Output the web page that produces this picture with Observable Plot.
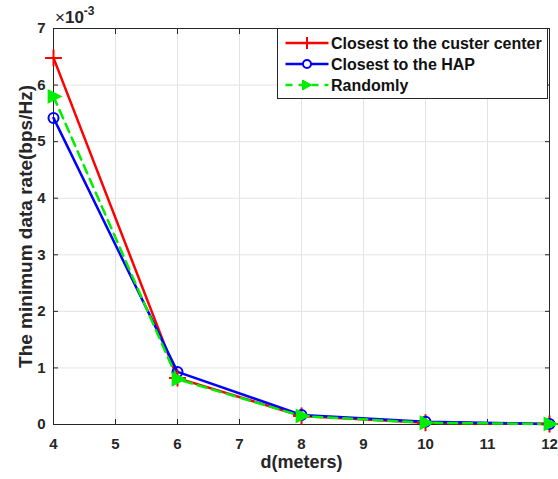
<!DOCTYPE html>
<html><head><meta charset="utf-8">
<script src="https://cdn.jsdelivr.net/npm/d3@7"></script>
<script src="https://cdn.jsdelivr.net/npm/@observablehq/plot@0.6"></script>
<style>
body{margin:0;background:#fff;}
#chart{position:relative;width:558px;height:479px;}
svg{font-family:"Liberation Sans",Arial,sans-serif;}
</style></head>
<body><div id="chart"></div>
<script>
const dValues = [4, 6, 8, 10, 12];
const seriesNames = ["Closest to the custer center", "Closest to the HAP", "Randomly"];
const clusterCenter = [6.48, 0.82, 0.15, 0.03, 0.01];
const closestHAP = [5.42, 0.93, 0.17, 0.05, 0.01];
const randomly = [5.80, 0.80, 0.15, 0.03, 0.01];
const xTicks = [4, 5, 6, 7, 8, 9, 10, 11, 12];
const yTicks = [0, 1, 2, 3, 4, 5, 6, 7];
const colors = ["#ff0000", "#0000ff", "#00ee00"];

const triRight = {draw(ctx, size){const r=Math.sqrt(size)*0.75; ctx.moveTo(r,0); ctx.lineTo(-r*0.7,-r*0.85); ctx.lineTo(-r*0.7,r*0.85); ctx.closePath();}};

const rows = [];
[clusterCenter, closestHAP, randomly].forEach((arr, i) => arr.forEach((v, j) => rows.push({series: seriesNames[i], d: dValues[j], v})));
const bySeries = n => rows.filter(r => r.series === n);

const W = 558, H = 479;
const ink = "#262626";
const plot = Plot.plot({
  width: W, height: H,
  marginLeft: 53, marginRight: 9, marginTop: 28, marginBottom: 55,
  style: {fontFamily: "Liberation Sans, Arial, sans-serif", fontSize: "15px", fontWeight: "bold", color: ink, background: "#fff"},
  x: {domain: [4, 12]},
  y: {domain: [0, 7]},
  marks: [
    Plot.ruleX(xTicks, {stroke: "#e3e3e3", strokeWidth: 1}),
    Plot.ruleY(yTicks, {stroke: "#e3e3e3", strokeWidth: 1}),
    Plot.axisX(xTicks, {anchor: "bottom", tickSize: -5, tickPadding: 19, stroke: ink, label: null, tickFormat: d3.format("d"), fontWeight: "bold", fontSize: 15, fill: ink}),
    Plot.axisX(xTicks, {anchor: "top", tickSize: -5, tickFormat: () => "", label: null, stroke: ink}),
    Plot.axisY(yTicks, {anchor: "left", tickSize: -5, tickPadding: 13, stroke: ink, label: null, tickFormat: d3.format("d"), fontWeight: "bold", fontSize: 15, fill: ink}),
    Plot.axisY(yTicks, {anchor: "right", tickSize: -5, tickFormat: () => "", label: null, stroke: ink}),
    Plot.frame({stroke: ink, strokeWidth: 1}),
    Plot.line(bySeries(seriesNames[0]), {x: "d", y: "v", stroke: colors[0], strokeWidth: 2.5}),
    Plot.line(bySeries(seriesNames[1]), {x: "d", y: "v", stroke: colors[1], strokeWidth: 2.5}),
    Plot.line(bySeries(seriesNames[2]), {x: "d", y: "v", stroke: colors[2], strokeWidth: 2.5, strokeDasharray: "9,6"}),
    Plot.dot(bySeries(seriesNames[0]), {x: "d", y: "v", symbol: "plus", stroke: colors[0], strokeWidth: 2, r: 5.5}),
    Plot.dot(bySeries(seriesNames[1]), {x: "d", y: "v", symbol: "circle", stroke: colors[1], strokeWidth: 2, r: 5}),
    Plot.dot(bySeries(seriesNames[2]), {x: "d", y: "v", symbol: triRight, fill: colors[2], stroke: colors[2], strokeWidth: 1.5, r: 5.5}),
    Plot.text(["d(meters)"], {frameAnchor: "bottom", textAnchor: "middle", dy: 43, fontSize: 18, fontWeight: "bold", fill: ink}),
    Plot.text(["The minimum data rate(bps/Hz)"], {frameAnchor: "left", textAnchor: "middle", dx: -28, rotate: -90, fontSize: 19, fontWeight: "bold", fill: ink})
  ]
});
document.getElementById("chart").appendChild(plot);

const svg = d3.select(plot);
// exponent label
const ex = svg.append("text").attr("x", 55).attr("y", 23).attr("text-anchor", "start").attr("fill", ink).style("font-size", "17px").style("font-weight", "normal");
ex.append("tspan").text("×");
ex.append("tspan").style("font-weight", "bold").text("10");
ex.append("tspan").attr("dy", -8).style("font-size", "12px").style("font-weight", "bold").text("-3");

// legend
const lg = svg.append("g").attr("transform", "translate(277.5,28.5)");
lg.append("rect").attr("width", 270).attr("height", 70).attr("fill", "#fff").attr("stroke", ink).attr("stroke-width", 1);
seriesNames.forEach((name, i) => {
  const y = 14.5 + i * 21;
  lg.append("line").attr("x1", 8).attr("x2", 51).attr("y1", y).attr("y2", y)
    .attr("stroke", colors[i]).attr("stroke-width", 2.5).attr("stroke-dasharray", i === 2 ? "7,6" : null);
  if (i === 0) lg.append("path").attr("d", `M29.5,${y-6}v12`).attr("stroke", colors[0]).attr("stroke-width", 2);
  if (i === 1) lg.append("circle").attr("cx", 29.5).attr("cy", y).attr("r", 4).attr("fill", "#fff").attr("stroke", colors[1]).attr("stroke-width", 2);
  if (i === 2) lg.append("path").attr("d", `M34,${y} L25,${y-5} L25,${y+5} Z`).attr("fill", colors[2]).attr("stroke", colors[2]);
  lg.append("text").attr("x", 53.5).attr("y", y + 5.5).attr("text-anchor", "start").style("font-size", "16px").style("font-weight", "bold").attr("fill", "#111").text(name);
});
</script></body></html>
